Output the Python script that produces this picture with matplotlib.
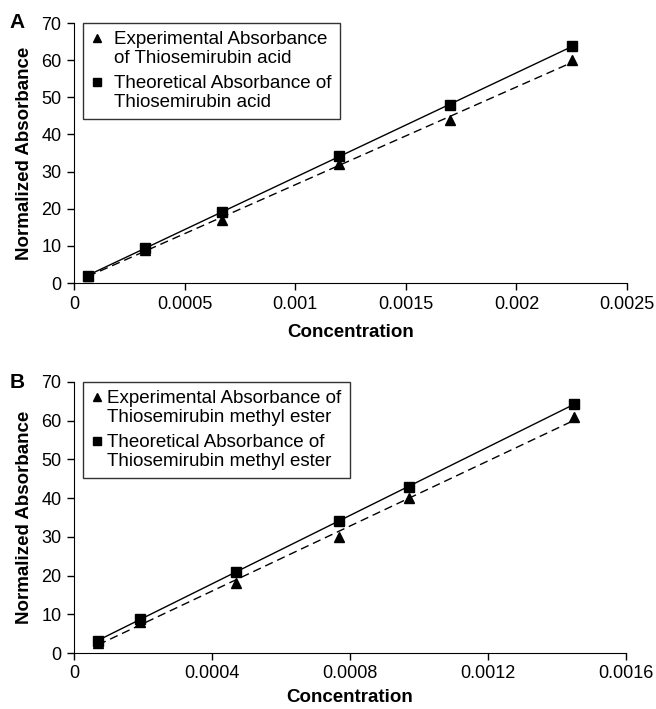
import numpy as np
import matplotlib.pyplot as plt
from matplotlib.lines import Line2D
from matplotlib.legend_handler import HandlerLine2D

plt.rcParams['font.family'] = ['Liberation Sans', 'DejaVu Sans']

# Panel A: thiosemirubin acid
conc_a = [0.000063, 0.00032, 0.00067, 0.0012, 0.0017, 0.00225]
exp_a = [2.0, 9.0, 17.0, 32.0, 44.0, 60.0]
theo_a = [2.0, 9.5, 19.0, 34.2, 48.0, 63.7]

# Panel B: thiosemirubin methyl ester
conc_b = [0.00007, 0.00019, 0.00047, 0.000767, 0.00097, 0.00145]
exp_b = [2.7, 8.0, 18.0, 30.0, 40.0, 61.0]
theo_b = [3.2, 8.7, 21.0, 34.0, 43.0, 64.3]

yticks = [0, 10, 20, 30, 40, 50, 60, 70]

FS = 13.5


class FirstLineMarker(HandlerLine2D):
    # put the legend marker next to the first text line instead of the middle
    def create_artists(self, legend, orig_handle, xdescent, ydescent, width, height,
                       fontsize, trans):
        arts = super().create_artists(legend, orig_handle, xdescent, ydescent, width,
                                      height, fontsize, trans)
        for a in arts:
            a.set_ydata(np.asarray(a.get_ydata()) + fontsize * 0.6)
        return arts


def draw_panel(ax, x, y_exp, y_theo, xticks, xticklabels, xmax, leg_exp, leg_theo,
               letter, textpad, xlabelpad):
    x = np.array(x)
    # trend lines (linear fits)
    for y, ls in ((y_exp, (0, (6, 3.5))), (y_theo, '-')):
        k, b = np.polyfit(x, y, 1)
        ax.plot(x[[0, -1]], k * x[[0, -1]] + b, color='black', lw=1.0, linestyle=ls)
    ax.plot(x, y_exp, '^', color='black', ms=7, zorder=3)
    ax.plot(x, y_theo, 's', color='black', ms=6.5, zorder=3)

    ax.set_xlim(0, xmax)
    ax.set_ylim(0, 70)
    ax.set_yticks(yticks)
    ax.set_xticks(xticks)
    ax.set_xticklabels(xticklabels)
    ax.tick_params(labelsize=13, length=5, width=1, direction='out', pad=4)
    for s in ('top', 'right'):
        ax.spines[s].set_visible(False)
    ax.set_ylabel('Normalized Absorbance', fontsize=FS, fontweight='bold', labelpad=6)
    ax.set_xlabel('Concentration', fontsize=FS, fontweight='bold', labelpad=xlabelpad)

    handles = [Line2D([], [], marker='^', color='black', ls='none', ms=6),
               Line2D([], [], marker='s', color='black', ls='none', ms=5.5)]
    leg = ax.legend(handles, [leg_exp, leg_theo], loc='upper left',
                    bbox_to_anchor=(0.016, 1.0), borderaxespad=0, fontsize=FS,
                    frameon=True, fancybox=False, edgecolor='black',
                    handlelength=0.6, handletextpad=textpad, borderpad=0.45,
                    labelspacing=0.4,
                    handler_map={Line2D: FirstLineMarker()})
    leg.get_frame().set_linewidth(1.0)
    for t in leg.get_texts():
        t.set_linespacing(1.15)
    ax.text(-0.103, 1.0, letter, transform=ax.transAxes, fontsize=15,
            fontweight='bold', ha='center', va='center')


fig = plt.figure(figsize=(6.56, 7.09), dpi=100)
ax_a = fig.add_axes([74 / 656, 1 - 283 / 709, 553 / 656, 260 / 709])
ax_b = fig.add_axes([74 / 656, 1 - 653 / 709, 552 / 656, 271 / 709])

draw_panel(ax_a, conc_a, exp_a, theo_a,
           [0, 0.0005, 0.001, 0.0015, 0.002, 0.0025],
           ['0', '0.0005', '0.001', '0.0015', '0.002', '0.0025'], 0.0025,
           'Experimental Absorbance\nof Thiosemirubin acid',
           'Theoretical Absorbance of\nThiosemirubin acid', 'A', 0.6, 8)
draw_panel(ax_b, conc_b, exp_b, theo_b,
           [0, 0.0004, 0.0008, 0.0012, 0.0016],
           ['0', '0.0004', '0.0008', '0.0012', '0.0016'], 0.0016,
           'Experimental Absorbance of\nThiosemirubin methyl ester',
           'Theoretical Absorbance of\nThiosemirubin methyl ester', 'B', 0.25, 5)

fig.savefig('out.png', dpi=100, facecolor='white')
